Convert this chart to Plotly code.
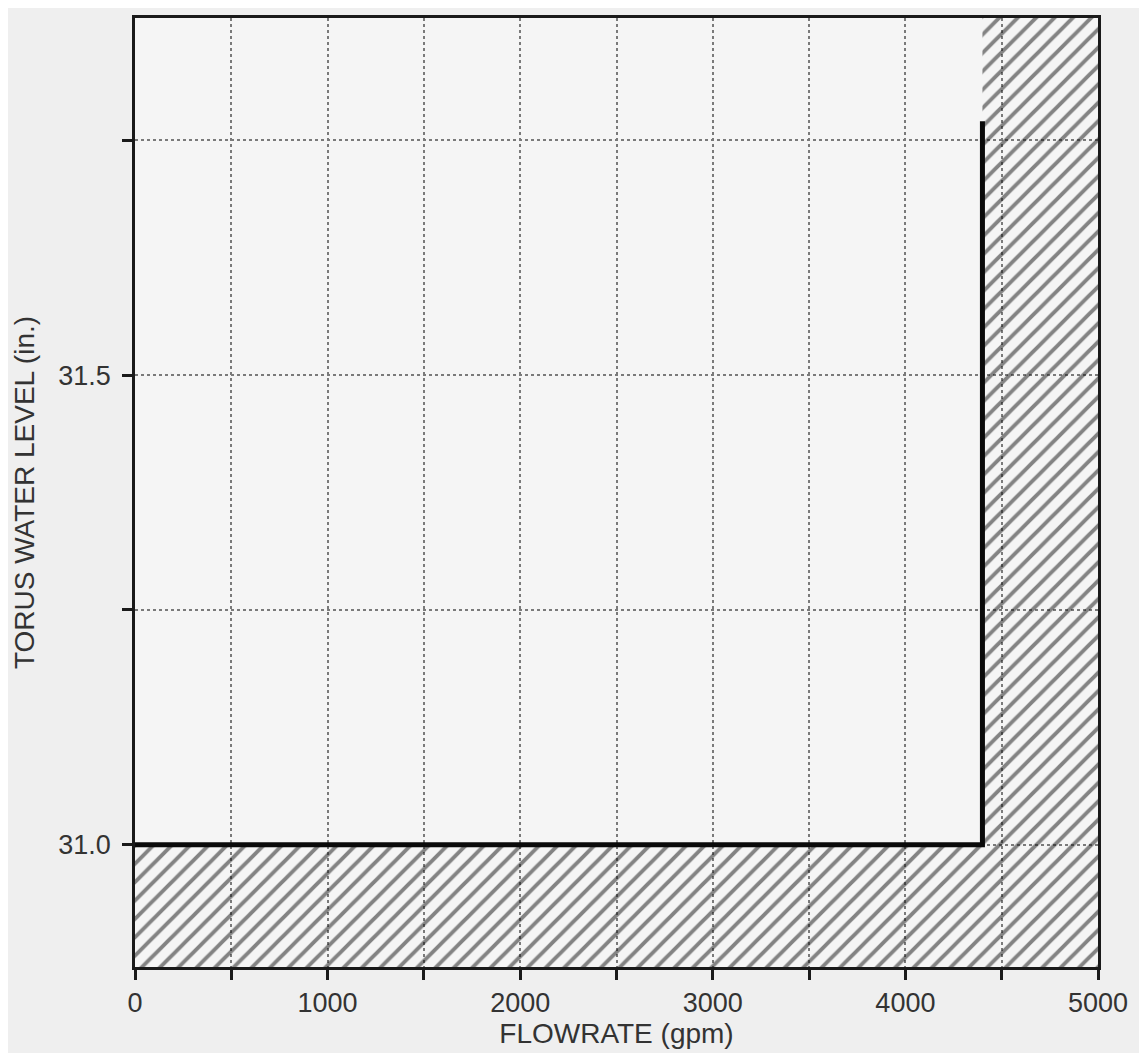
import plotly.graph_objects as go

# Data
limit_flow = [0, 4400, 4400]          # gpm
limit_level = [31.0, 31.0, 31.77]     # in.
region_flow = [0, 5000, 5000, 4400, 4400, 0, 0]
region_level = [30.87, 30.87, 31.88, 31.88, 31.0, 31.0, 30.87]
x_ticks = [0, 500, 1000, 1500, 2000, 2500, 3000, 3500, 4000, 4500, 5000]
x_labels = ["0", "", "1000", "", "2000", "", "3000", "", "4000", "", "5000"]
y_ticks = [31.0, 31.25, 31.5, 31.75]
y_labels = ["31.0", "", "31.5", ""]

font_family = "Liberation Sans, Arial, sans-serif"

fig = go.Figure()
fig.add_trace(go.Scatter(
    x=region_flow, y=region_level, mode="lines", fill="toself",
    line=dict(width=0, color="rgba(0,0,0,0)"),
    fillcolor="rgba(0,0,0,0)",
    fillpattern=dict(shape="/", size=13, solidity=0.3, fgcolor="#111111",
                     bgcolor="rgba(0,0,0,0)"),
    hoverinfo="skip", showlegend=False,
))
fig.add_trace(go.Scatter(
    x=limit_flow, y=limit_level, mode="lines",
    line=dict(color="#0a0a0a", width=5), showlegend=False,
))

axis_common = dict(
    showline=True, linecolor="#1a1a1a", linewidth=2.5, mirror=True,
    ticks="outside", ticklen=10, tickwidth=2.5, tickcolor="#1a1a1a",
    showgrid=True, gridcolor="#7a7a7a", griddash="dot", gridwidth=1.5,
    zeroline=False,
    tickfont=dict(family=font_family, size=27, color="#333333"),
)

fig.update_xaxes(
    range=[0, 5000], tickvals=x_ticks, ticktext=x_labels,
    title=dict(text="FLOWRATE (gpm)", standoff=0,
               font=dict(family=font_family, size=28, color="#333333")),
    **axis_common,
)
fig.update_yaxes(
    range=[30.87, 31.88], tickvals=y_ticks, ticktext=y_labels,
    ticklabelstandoff=6,
    title=dict(text="TORUS WATER LEVEL (in.)", standoff=16,
               font=dict(family=font_family, size=28, color="#333333")),
    **axis_common,
)

fig.update_layout(
    width=1147, height=1053,
    margin=dict(l=127, r=57, t=7, b=94),
    paper_bgcolor="#efefef", plot_bgcolor="#f5f5f5",
)

fig.write_html("out.html")
